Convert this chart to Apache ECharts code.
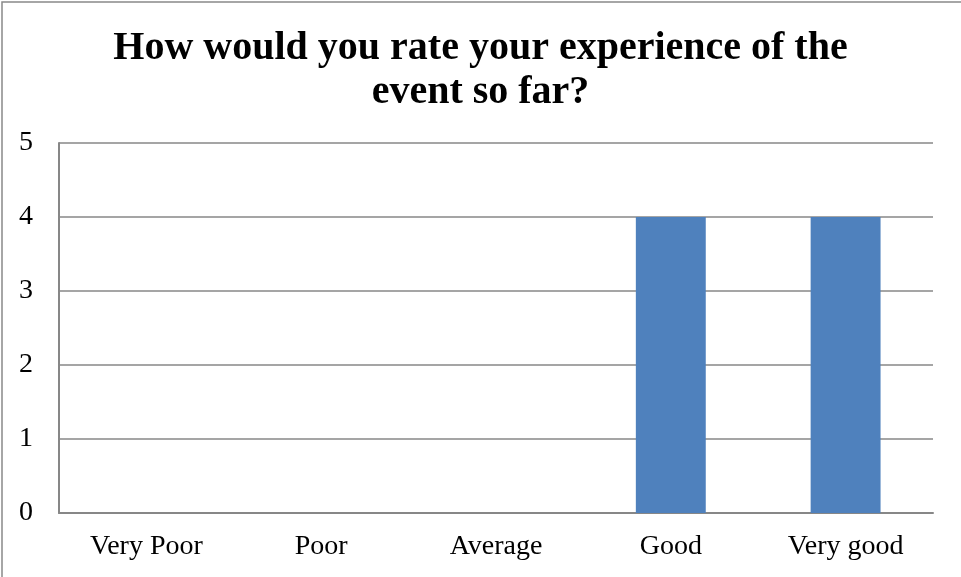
<!DOCTYPE html>
<html>
<head>
<meta charset="utf-8">
<script src="https://cdn.jsdelivr.net/npm/echarts@6/dist/echarts.min.js"></script>
<style>
  html, body { margin: 0; padding: 0; background: #fff; }
  #chart { width: 961px; height: 577px; }
</style>
</head>
<body>
<div id="chart"></div>
<script>
// survey answers
var categories = ['Very Poor', 'Poor', 'Average', 'Good', 'Very good'];
var counts = [0, 0, 0, 4, 4];
var yTicks = [0, 1, 2, 3, 4, 5];

var chart = echarts.init(document.getElementById('chart'));
chart.setOption({
  animation: false,
  title: {
    text: 'How would you rate your experience of the\nevent so far?',
    left: 'center',
    top: 22,
    textStyle: {
      fontFamily: 'Liberation Serif',
      fontWeight: 'bold',
      fontSize: 40,
      lineHeight: 44,
      color: '#000'
    }
  },
  graphic: [{
    type: 'rect',
    shape: { x: 2, y: 2, width: 970, height: 590 },
    style: { fill: 'none', stroke: '#898989', lineWidth: 1.5 },
    silent: true
  }],
  grid: { left: 59, right: 28, top: 143, bottom: 64 },
  xAxis: {
    type: 'category',
    data: categories,
    axisTick: { show: false },
    axisLine: { lineStyle: { color: '#878787', width: 2 } },
    axisLabel: { fontFamily: 'Liberation Serif', fontSize: 28, color: '#000', margin: 20 }
  },
  yAxis: {
    type: 'value',
    min: yTicks[0],
    max: yTicks[yTicks.length - 1],
    interval: 1,
    axisLine: { show: true, lineStyle: { color: '#878787', width: 2 } },
    axisTick: { show: false },
    splitLine: { lineStyle: { color: '#878787', width: 1.5 } },
    axisLabel: { fontFamily: 'Liberation Serif', fontSize: 28, color: '#000', margin: 26 }
  },
  series: [{
    type: 'bar',
    data: counts,
    barWidth: '40%',
    itemStyle: { color: '#4f81bd' }
  }]
});
</script>
</body>
</html>
